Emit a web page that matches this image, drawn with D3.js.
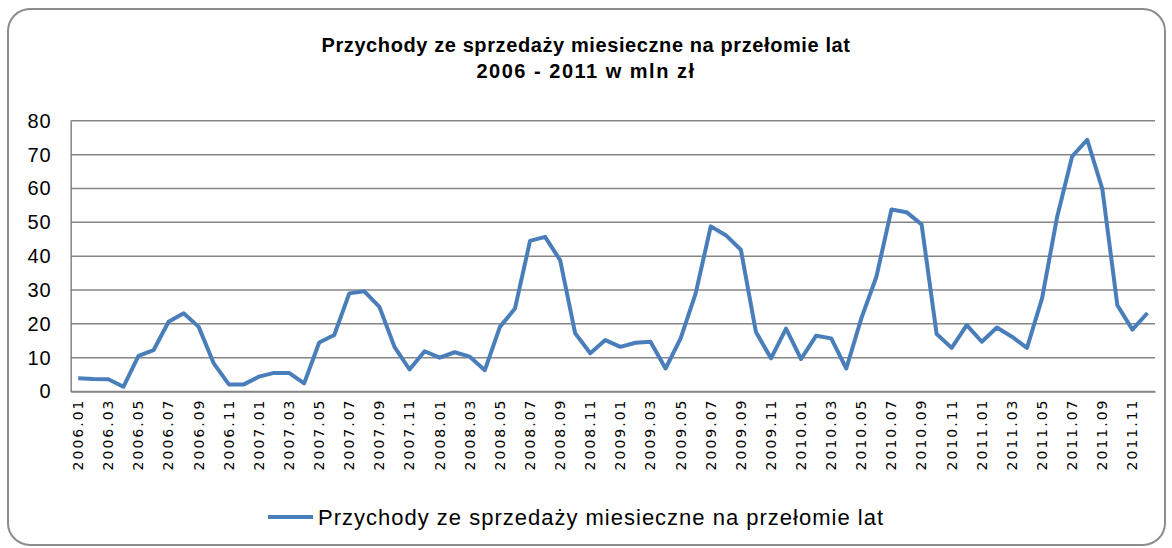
<!DOCTYPE html>
<meta charset="utf-8">
<style>
body { margin: 0; background: #fff; }
text { font-family: "Liberation Sans", sans-serif; fill: #000; }
.title { font-size: 20px; font-weight: bold; text-anchor: middle; }
.grid line { stroke: #868686; stroke-width: 1.5; }
</style>
<svg width="1172" height="548"></svg>
<script src="https://d3js.org/d3.v7.min.js"></script>
<script>

var title = ["Przychody ze sprzedaży miesieczne na przełomie lat", "2006 - 2011 w mln zł"];
var seriesName = "Przychody ze sprzedaży miesieczne na przełomie lat";

var years = ["2006", "2007", "2008", "2009", "2010", "2011"];
var months = ["01", "02", "03", "04", "05", "06", "07", "08", "09", "10", "11", "12"];

var values = [
  3.9, 3.7, 3.6, 1.4, 10.5, 12.2, 20.6, 23.1, 19.1, 8.3, 2.1, 2.1,
  4.4, 5.5, 5.5, 2.4, 14.5, 16.7, 29.0, 29.6, 25.0, 13.2, 6.5, 11.9,
  10.0, 11.6, 10.3, 6.3, 19.1, 24.5, 44.5, 45.7, 38.8, 17.2, 11.3, 15.2,
  13.2, 14.4, 14.7, 6.8, 15.7, 29.0, 48.8, 46.2, 41.9, 17.6, 9.8, 18.6,
  9.6, 16.5, 15.7, 6.8, 21.6, 33.9, 53.8, 53.0, 49.4, 17.0, 12.9, 19.6,
  14.7, 18.9, 16.2, 12.9, 27.5, 51.6, 69.5, 74.4, 59.9, 25.5, 18.3, 23.2
];

var yTicks = [0, 10, 20, 30, 40, 50, 60, 70, 80];

var categories = [];
years.forEach(function(y) {
  months.forEach(function(m) { categories.push(y + "." + m); });
});
var data = categories.map(function(c, i) { return { cat: c, value: values[i] }; });

var svg = d3.select("svg");

svg.append("rect")
    .attr("x", 8).attr("y", 9)
    .attr("width", 1157).attr("height", 536)
    .attr("rx", 22).attr("ry", 22)
    .attr("fill", "#fff")
    .attr("stroke", "#8c8c8c")
    .attr("stroke-width", 2);

title.forEach(function(t, i) {
  svg.append("text")
      .attr("class", "title")
      .attr("x", 586)
      .attr("y", 52 + i * 26)
      .style("letter-spacing", i === 0 ? "0.6px" : "1.5px")
      .text(t);
});

var plotLeft = 70.7, plotRight = 1155, plotTop = 120.8, plotBottom = 391.5;

var x = d3.scaleBand()
    .domain(categories)
    .range([plotLeft, plotRight]);

var y = d3.scaleLinear()
    .domain([0, 80])
    .range([plotBottom, plotTop]);

svg.append("g")
    .attr("class", "grid")
    .selectAll("line")
    .data(yTicks)
    .enter().append("line")
      .attr("x1", plotLeft).attr("x2", plotRight)
      .attr("y1", function(d) { return y(d); })
      .attr("y2", function(d) { return y(d); });

var yAxis = svg.append("g")
    .attr("transform", "translate(" + plotLeft + ",0)")
    .call(d3.axisLeft(y).tickValues(yTicks).tickSize(0).tickPadding(19));
yAxis.select(".domain").attr("stroke", "#868686").attr("stroke-width", 1.5);
yAxis.selectAll("text")
    .style("font-family", "'Liberation Sans', sans-serif")
    .style("font-size", "20px")
    .style("letter-spacing", "1px");

var xAxis = svg.append("g")
    .attr("transform", "translate(0," + plotBottom + ")")
    .call(d3.axisBottom(x)
      .tickValues(categories.filter(function(c, i) { return i % 2 === 0; }))
      .tickSize(0));
xAxis.select(".domain").attr("stroke", "#868686").attr("stroke-width", 1.5);
xAxis.selectAll("text")
    .attr("transform", "rotate(-90)")
    .attr("x", -7)
    .attr("y", 0)
    .attr("dy", "0.35em")
    .style("text-anchor", "end")
    .style("font-family", "'DejaVu Sans', sans-serif")
    .style("font-size", "14px")
    .style("letter-spacing", "2px");

var line = d3.line()
    .x(function(d) { return x(d.cat) + x.bandwidth() / 2; })
    .y(function(d) { return y(d.value); });

svg.append("path")
    .datum(data)
    .attr("d", line)
    .attr("fill", "none")
    .attr("stroke", "#4a7ebb")
    .attr("stroke-width", 4)
    .attr("stroke-linejoin", "round");

var legend = svg.append("g").attr("transform", "translate(268,517)");
legend.append("line")
    .attr("x1", 0).attr("x2", 45)
    .attr("stroke", "#4a7ebb").attr("stroke-width", 4);
legend.append("text")
    .attr("x", 50)
    .attr("dy", "0.35em")
    .style("font-family", "'Liberation Sans', sans-serif")
    .style("font-size", "22px")
    .style("letter-spacing", "1px")
    .text(seriesName);

</script>
